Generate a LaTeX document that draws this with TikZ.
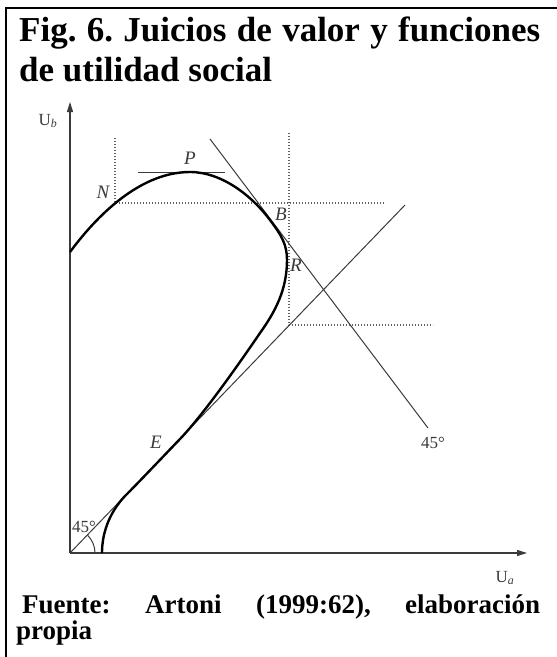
\documentclass[tikz,border=0pt]{standalone}
\usepackage{fontspec}
\setmainfont{Liberation Serif}
\usetikzlibrary{arrows.meta}
\definecolor{ink}{HTML}{3A3A3A}
\frenchspacing
\tikzset{
  frame/.style={line width=2pt, black},
  axis/.style={line width=1.1pt, ink, -{Triangle[length=10pt,width=6pt]}},
  thinline/.style={line width=1pt, ink},
  dots/.style={line width=1.2pt, ink!80, dash pattern=on 1.2pt off 1.8pt},
  curve/.style={line width=2.4pt, black},
  lbl/.style={inner sep=0pt, text=ink, font=\fontsize{19}{19}\selectfont\itshape},
  ulbl/.style={inner sep=0pt, text=ink, font=\fontsize{17}{17}\selectfont},
  title/.style={inner sep=0pt, anchor=base west, font=\fontsize{35}{40}\selectfont\bfseries},
  source/.style={inner sep=0pt, anchor=base west, font=\fontsize{27}{28}\selectfont\bfseries}
}
\begin{document}
\begin{tikzpicture}[x=1pt,y=-1pt]
\useasboundingbox (0,0) rectangle (557,657);
% frame
\coordinate (fTL) at (6,8);
\coordinate (fTR) at (557,8);
\coordinate (fBL) at (6,657);
\draw[frame] (fTR) -- (fTL) -- (fBL);
% title
\node[title] (t1) at (19,41) {\makebox[521pt][s]{Fig. 6. Juicios de valor y funciones}};
\node[title] (t2) at (19,81) {de utilidad social};
% source
\node[source] (s1) at (22,613) {\makebox[518pt][s]{Fuente: Artoni (1999:62), elaboración}};
\node[source] (s2) at (16,639) {propia};
% axes
\coordinate (O) at (70,553);
\coordinate (Ytip) at (70,102);
\coordinate (Xtip) at (527,553);
\draw[axis] (O) -- (Ytip);
\draw[axis] (O) -- (Xtip);
\node[ulbl] (Ub) at (48,121) {U\textsubscript{\textit{b}}};
\node[ulbl] (Ua) at (505,578) {U\textsubscript{\textit{a}}};
% dotted guides
\coordinate (Nt) at (115,138);
\coordinate (Nc) at (115,203);
\coordinate (Nr) at (385,203);
\coordinate (Bt) at (289,133);
\coordinate (Bc) at (289,325);
\coordinate (Br) at (433,325);
\draw[dots] (Nt) -- (Nc) -- (Nr);
\draw[dots] (Bt) -- (Bc) -- (Br);
% straight lines
\coordinate (L1a) at (210,139);
\coordinate (L1b) at (428,428);
\draw[thinline] (L1a) -- (L1b);
\coordinate (L2b) at (405,205);
\draw[thinline] (O) -- (L2b);
\coordinate (Pa) at (138,172);
\coordinate (Pb) at (225,172);
\draw[thinline, line width=0.8pt] (Pa) -- (Pb);
% angle arc
\coordinate (Arc0) at (95,553);
\draw[thinline] (Arc0) arc (0:-45:25);
% curve
\draw[curve] (70,252) .. controls (90,225) and (135,172) .. (190,172)
  .. controls (222,172) and (252,196) .. (270,220)
  .. controls (282,236) and (287,245) .. (287,260)
  .. controls (287,290) and (275,312) .. (260,333)
  .. controls (245,355) and (205,413) .. (180,439)
  .. controls (155,465) and (140,481) .. (125,496)
  .. controls (108,514) and (102,535) .. (102,553);
% labels
\node[lbl] (N) at (103,192) {N};
\node[lbl] (P) at (190,158) {P};
\node[lbl] (B) at (281,214) {B};
\node[lbl] (R) at (296,265) {R};
\node[lbl] (E) at (156,442) {E};
\node[ulbl] (a1) at (433,443) {45°};
\node[ulbl] (a2) at (84,527) {45°};
\end{tikzpicture}
\end{document}
